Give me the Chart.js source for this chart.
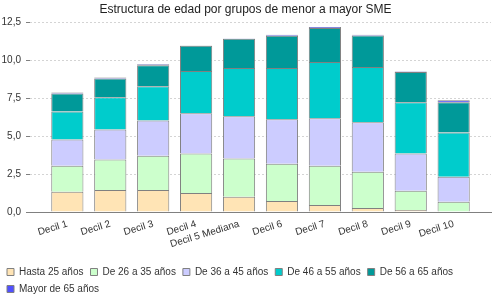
<!DOCTYPE html>
<html>
<head>
<meta charset="utf-8">
<script src="https://cdn.jsdelivr.net/npm/chart.js@4/dist/chart.umd.min.js"></script>
<style>
  html, body { margin: 0; padding: 0; background: #fff; }
  #wrap { width: 500px; height: 300px; position: relative; }
</style>
</head>
<body>
<div id="wrap"><canvas id="c" width="500" height="300"></canvas></div>
<script>
const categories = ['Decil 1', 'Decil 2', 'Decil 3', 'Decil 4', 'Decil 5 Mediana', 'Decil 6', 'Decil 7', 'Decil 8', 'Decil 9', 'Decil 10'];
const seriesNames = ['Hasta 25 años', 'De 26 a 35 años', 'De 36 a 45 años', 'De 46 a 55 años', 'De 56 a 65 años', 'Mayor de 65 años'];
const hasta25 = [1.33, 1.46, 1.46, 1.26, 1.00, 0.73, 0.47, 0.27, 0.13, 0.00];
const de26a35 = [1.73, 2.00, 2.26, 2.60, 2.53, 2.46, 2.59, 2.39, 1.27, 0.67];
const de36a45 = [1.73, 1.99, 2.33, 2.66, 2.79, 2.93, 3.13, 3.26, 2.46, 1.66];
const de46a55 = [1.84, 2.13, 2.26, 2.79, 3.19, 3.39, 3.72, 3.66, 3.39, 2.92];
const de56a65 = [1.20, 1.24, 1.38, 1.66, 1.93, 2.13, 2.24, 2.07, 2.00, 2.00];
const mayor65 = [0.06, 0.06, 0.06, 0.02, 0.02, 0.06, 0.06, 0.06, 0.02, 0.13];
const yTicks = [0, 2.5, 5, 7.5, 10, 12.5];

const seriesValues = [hasta25, de26a35, de36a45, de46a55, de56a65, mayor65];
const colors = ['#FFE4B5', '#CCFFCC', '#CCCCFF', '#00CCCC', '#009999', '#5050FF'];
const FONT = '"Liberation Sans", Arial, sans-serif';

new Chart(document.getElementById('c'), {
  type: 'bar',
  data: {
    labels: categories.map((_, i) => i),
    datasets: seriesValues.map((vals, k) => ({
      label: seriesNames[k],
      data: vals,
      backgroundColor: colors[k],
      borderColor: '#808080',
      borderWidth: 1,
      categoryPercentage: 1,
      barPercentage: 0.75
    }))
  },
  options: {
    responsive: false,
    animation: false,
    devicePixelRatio: 1,
    layout: { padding: { left: 0, right: 9, top: 0, bottom: -4 } },
    plugins: {
      title: {
        display: true,
        text: 'Estructura de edad por grupos de menor a mayor SME',
        color: '#222',
        font: { family: FONT, size: 12, weight: 'normal' },
        padding: { top: 2, bottom: 1 }
      },
      legend: {
        position: 'bottom',
        align: 'start',
        labels: {
          boxWidth: 7,
          boxHeight: 7,
          padding: 7,
          color: '#333',
          font: { family: FONT, size: 10 }
        }
      },
      tooltip: { enabled: false }
    },
    scales: {
      x: {
        type: 'linear',
        stacked: true,
        offset: false,
        min: -0.87,
        max: 9.87,
        afterBuildTicks: s => { s.ticks = categories.map((_, i) => ({ value: i })); },
        afterFit: s => { s.height = 48; },
        grid: { display: false, drawTicks: false, offset: false },
        border: { display: true, color: '#808080', width: 1 },
        ticks: {
          autoSkip: false,
          minRotation: 17,
          maxRotation: 17,
          padding: 6,
          color: '#333',
          font: { family: FONT, size: 10 },
          callback: v => categories[v]
        }
      },
      y: {
        stacked: true,
        min: 0,
        max: 12.85,
        afterBuildTicks: s => { s.ticks = yTicks.map(v => ({ value: v })); },
        afterFit: s => { s.width = 30; },
        grid: {
          color: ctx => (ctx.tick && ctx.tick.value === 0) ? 'rgba(0,0,0,0)' : '#d4d4d4',
          tickColor: '#808080',
          tickLength: 4,
          tickBorderDash: [],
          lineWidth: 1
        },
        border: { display: false, dash: [2, 2] },
        ticks: {
          padding: 5,
          color: '#333',
          font: { family: FONT, size: 10 },
          callback: v => v.toFixed(1).replace('.', ',')
        }
      }
    }
  }
});
</script>
</body>
</html>
